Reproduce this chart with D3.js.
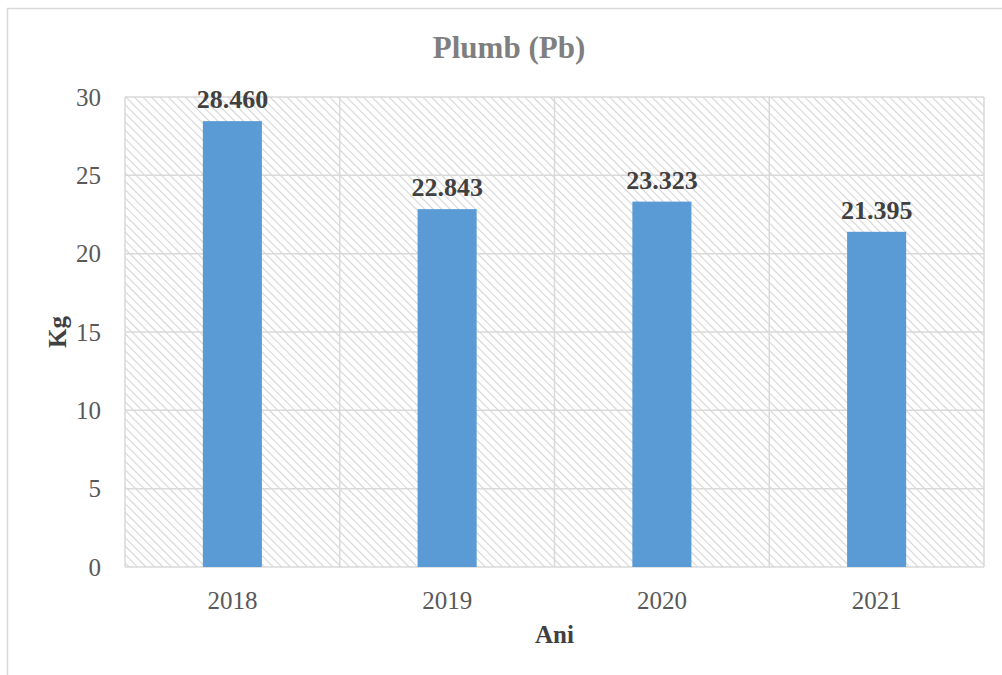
<!DOCTYPE html>
<html>
<head>
<meta charset="utf-8">
<script src="https://cdn.jsdelivr.net/npm/d3@7"></script>
<style>
  body { margin: 0; background: #fff; }
  text { font-family: "Liberation Serif", "Times New Roman", serif; }
</style>
</head>
<body>
<div id="chart"></div>
<script>
// Chart data
const years = ["2018", "2019", "2020", "2021"];
const values = [28.460, 22.843, 23.323, 21.395];
const yTicks = [0, 5, 10, 15, 20, 25, 30];

const width = 1002, height = 675;
const margin = { top: 97, right: 18, bottom: 108, left: 125 };
const plotW = width - margin.left - margin.right,
  plotH = height - margin.top - margin.bottom;

const svg = d3.select("#chart").append("svg")
  .attr("width", width)
  .attr("height", height);

// hatch pattern for plot background ("\" direction)
const defs = svg.append("defs");
defs.append("pattern")
  .attr("id", "hatch")
  .attr("patternUnits", "userSpaceOnUse")
  .attr("width", 6)
  .attr("height", 6)
  .attr("patternTransform", "rotate(-45)")
  .append("line")
  .attr("x1", 0).attr("y1", 0)
  .attr("x2", 0).attr("y2", 6)
  .attr("stroke", "#d4d4d4")
  .attr("stroke-width", 2.2);

// outer chart border
svg.append("rect")
  .attr("x", 7.5).attr("y", 8.5)
  .attr("width", 1010).attr("height", 700)
  .attr("fill", "none")
  .attr("stroke", "#d9d9d9")
  .attr("stroke-width", 1.5);

const g = svg.append("g")
  .attr("transform", "translate(" + margin.left + "," + margin.top + ")");

const x = d3.scaleBand()
  .domain(years)
  .range([0, plotW])
  .padding(0);

const y = d3.scaleLinear()
  .domain([0, 30])
  .range([plotH, 0]);

// plot area background
g.append("rect")
  .attr("width", plotW)
  .attr("height", plotH)
  .attr("fill", "url(#hatch)");

// horizontal grid
g.selectAll(".hgrid")
  .data(yTicks)
  .enter().append("line")
  .attr("x1", 0).attr("x2", plotW)
  .attr("y1", d => y(d)).attr("y2", d => y(d))
  .attr("stroke", "#d9d9d9")
  .attr("stroke-width", 1.5);

// vertical grid (category boundaries)
g.selectAll(".vgrid")
  .data(years.concat(["end"]))
  .enter().append("line")
  .attr("x1", (d, i) => i * x.step()).attr("x2", (d, i) => i * x.step())
  .attr("y1", 0).attr("y2", plotH)
  .attr("stroke", "#d9d9d9")
  .attr("stroke-width", 1.5);

// bars
const barW = x.bandwidth() * 0.275;
g.selectAll(".bar")
  .data(values)
  .enter().append("rect")
  .attr("class", "bar")
  .attr("x", (d, i) => x(years[i]) + x.bandwidth() / 2 - barW / 2)
  .attr("y", d => y(d))
  .attr("width", barW)
  .attr("height", d => plotH - y(d))
  .attr("fill", "#5b9bd5");

// value labels
g.selectAll(".label")
  .data(values)
  .enter().append("text")
  .attr("x", (d, i) => x(years[i]) + x.bandwidth() / 2)
  .attr("y", d => y(d) - 13)
  .attr("text-anchor", "middle")
  .style("font-size", "26px")
  .style("font-weight", "bold")
  .style("fill", "#404040")
  .text(d => d.toFixed(3));

// y axis labels
g.selectAll(".ytick")
  .data(yTicks)
  .enter().append("text")
  .attr("x", -24)
  .attr("y", d => y(d))
  .attr("dy", "0.35em")
  .attr("text-anchor", "end")
  .style("font-size", "25px")
  .style("fill", "#595959")
  .text(d => d);

// x axis labels
g.selectAll(".xtick")
  .data(years)
  .enter().append("text")
  .attr("x", d => x(d) + x.bandwidth() / 2)
  .attr("y", plotH + 42)
  .attr("text-anchor", "middle")
  .style("font-size", "25px")
  .style("fill", "#595959")
  .text(d => d);

// title
svg.append("text")
  .attr("x", 509).attr("y", 58)
  .attr("text-anchor", "middle")
  .style("font-size", "31px")
  .style("font-weight", "bold")
  .style("fill", "#7f7f7f")
  .text("Plumb (Pb)");

// axis titles
svg.append("text")
  .attr("transform", "translate(66," + (margin.top + plotH / 2) + ") rotate(-90)")
  .attr("text-anchor", "middle")
  .style("font-size", "25px")
  .style("font-weight", "bold")
  .style("fill", "#404040")
  .text("Kg");

svg.append("text")
  .attr("x", margin.left + plotW / 2).attr("y", 643)
  .attr("text-anchor", "middle")
  .style("font-size", "25px")
  .style("font-weight", "bold")
  .style("fill", "#404040")
  .text("Ani");
</script>
</body>
</html>
